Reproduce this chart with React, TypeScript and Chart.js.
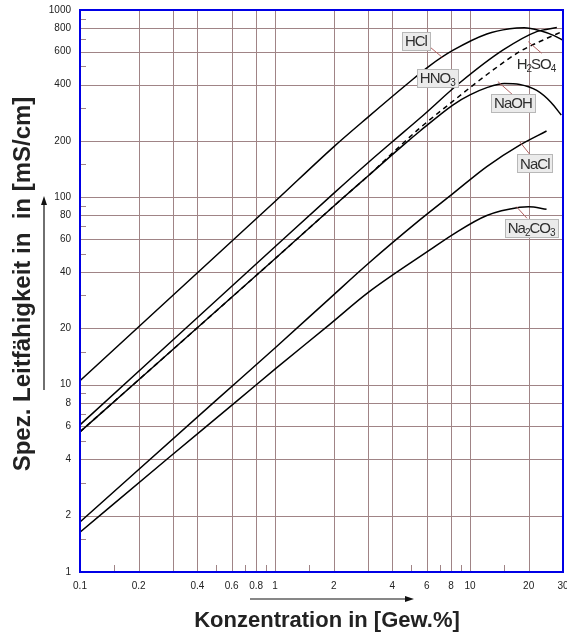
import React, { useEffect, useRef } from 'react';
import { Chart, registerables } from 'chart.js';
Chart.register(...registerables);

// ---- data (concentration in Gew.% vs. conductivity in mS/cm) ----
const hclX = [0.1, 1, 2, 3, 4.73, 6.23, 8.2, 12.2, 16, 19, 23, 27, 30];
const hclY = [10.5, 95, 186, 268, 400, 505, 610, 745, 795, 805, 775, 730, 690];

const hno3X = [0.1, 1, 2, 3, 4, 5.55, 8.9, 14.8, 22, 27.9];
const hno3Y = [6.1, 54.5, 105, 153, 198, 265, 410, 612, 767, 806];

const h2so4X = [0.1, 1, 2.2, 3, 4.55, 5.55, 8, 10, 13.2, 18, 24, 30];
const h2so4Y = [5.6, 47, 98, 130, 195, 235, 320, 385, 480, 600, 695, 770];

const naohX = [0.1, 1, 2.2, 3, 4.55, 5.55, 8.2, 10, 12.2, 15, 18, 22, 26, 29.4];
const naohY = [5.6, 47, 98, 130, 190, 226, 312, 352, 385, 405, 400, 372, 322, 275];

const naclX = [0.1, 0.502, 1, 1.91, 3, 5.55, 8.2, 12.2, 18, 24.7];
const naclY = [1.85, 8.29, 15.7, 28.9, 44.2, 76, 105, 146, 190, 226];

const na2co3X = [0.1, 0.279, 0.648, 1, 1.91, 3, 6.23, 8.2, 12.2, 18, 20, 24.7];
const na2co3Y = [1.63, 4, 8.29, 12.1, 21, 31, 52.4, 63.5, 80, 88.5, 89, 86.3];

// ---- axes ----
const xTickLabels = [0.1, 0.2, 0.4, 0.6, 0.8, 1, 2, 4, 6, 8, 10, 20, 30];
const yTickLabels = [1, 2, 4, 6, 8, 10, 20, 40, 60, 80, 100, 200, 400, 600, 800, 1000];
const xGridValues = [0.2, 0.3, 0.4, 0.6, 0.8, 1, 2, 3, 4, 6, 8, 10, 20];
const yGridValues = [2, 4, 6, 8, 10, 20, 40, 60, 80, 100, 200, 400, 600, 800];
const xMinorTicks = [0.15, 0.5, 0.7, 0.9, 1.5, 5, 7, 9, 15];
const yMinorTicks = [1.5, 3, 5, 7, 9, 15, 30, 50, 70, 90, 150, 300, 500, 700, 900];

const xTitle = 'Konzentration in [Gew.%]';
const yTitle = 'Spez. Leitfähigkeit in  in [mS/cm]';

// label annotations (anchored in data coordinates)
type Part = [string, boolean];
const annotations: { parts: Part[]; x: number; y: number; box: boolean; lead?: number[] }[] = [
  { parts: [['HCl', false]], x: 5.28, y: 684, box: true, lead: [6.23, 635, 7.27, 555] },
  { parts: [['HNO', false], ['3', true]], x: 6.8, y: 435, box: true },
  { parts: [['H', false], ['2', true], ['SO', false], ['4', true]], x: 21.8, y: 515, box: false, lead: [23.3, 588, 19.9, 678] },
  { parts: [['NaOH', false]], x: 16.6, y: 319, box: true, lead: [16.6, 352, 13.9, 415] },
  { parts: [['NaCl', false]], x: 21.5, y: 152, box: true, lead: [20.7, 165, 18, 198] },
  { parts: [['Na', false], ['2', true], ['CO', false], ['3', true]], x: 20.6, y: 68.7, box: true, lead: [19.6, 77.3, 17.3, 89.2] },
];

const GRID = '#a08486';
const FONT = '"Liberation Sans", Arial, sans-serif';

const pts = (xs: number[], ys: number[]) => xs.map((x, i) => ({ x, y: ys[i] }));

const deco = {
  id: 'deco',
  beforeDatasetsDraw(chart: any) {
    const { ctx, chartArea: a, scales } = chart;
    const x = scales.x, y = scales.y;
    ctx.save();
    ctx.strokeStyle = GRID;
    ctx.lineWidth = 1;
    ctx.beginPath();
    for (const v of xGridValues) {
      const p = Math.round(x.getPixelForValue(v)) + 0.5;
      ctx.moveTo(p, a.top); ctx.lineTo(p, a.bottom);
    }
    for (const v of yGridValues) {
      const p = Math.round(y.getPixelForValue(v)) + 0.5;
      ctx.moveTo(a.left, p); ctx.lineTo(a.right, p);
    }
    for (const v of xMinorTicks) {
      const p = Math.round(x.getPixelForValue(v)) + 0.5;
      ctx.moveTo(p, a.bottom); ctx.lineTo(p, a.bottom - 7);
    }
    for (const v of yMinorTicks) {
      const p = Math.round(y.getPixelForValue(v)) + 0.5;
      ctx.moveTo(a.left, p); ctx.lineTo(a.left + 6, p);
    }
    ctx.stroke();
    ctx.restore();
  },
  afterDatasetsDraw(chart: any) {
    const { ctx, chartArea: a, scales } = chart;
    const x = scales.x, y = scales.y;
    ctx.save();
    // border
    ctx.strokeStyle = '#0000e6';
    ctx.lineWidth = 2;
    ctx.strokeRect(a.left, a.top, a.right - a.left, a.bottom - a.top);
    // leaders
    ctx.strokeStyle = '#b06060';
    ctx.lineWidth = 1;
    for (const an of annotations) {
      if (!an.lead) continue;
      ctx.beginPath();
      ctx.moveTo(x.getPixelForValue(an.lead[0]), y.getPixelForValue(an.lead[1]));
      ctx.lineTo(x.getPixelForValue(an.lead[2]), y.getPixelForValue(an.lead[3]));
      ctx.stroke();
    }
    // labels
    const big = `15px ${FONT}`;
    const small = `10px ${FONT}`;
    for (const an of annotations) {
      (ctx as any).letterSpacing = '-1px';
      let w = 0;
      for (const [t, sub] of an.parts) { ctx.font = sub ? small : big; w += ctx.measureText(t).width; }
      const cx = x.getPixelForValue(an.x), cy = y.getPixelForValue(an.y);
      const h = 18;
      if (an.box) {
        ctx.fillStyle = '#ebebeb';
        ctx.strokeStyle = '#b8b8b8';
        ctx.lineWidth = 1;
        const bx = Math.round(cx - w / 2 - 3) + 0.5, by = Math.round(cy - h / 2) + 0.5;
        ctx.fillRect(bx, by, Math.round(w + 6), h);
        ctx.strokeRect(bx, by, Math.round(w + 6), h);
      }
      ctx.fillStyle = '#2e2e2e';
      ctx.textBaseline = 'alphabetic';
      ctx.textAlign = 'left';
      let px = cx - w / 2;
      const base = cy + 5.5;
      for (const [t, sub] of an.parts) {
        ctx.font = sub ? small : big;
        ctx.fillText(t, px, sub ? base + 3 : base);
        px += ctx.measureText(t).width;
      }
      (ctx as any).letterSpacing = '0px';
    }
    ctx.restore();
  },
  afterDraw(chart: any) {
    const { ctx } = chart;
    ctx.save();
    ctx.fillStyle = '#222';
    ctx.font = `bold 22px ${FONT}`;
    ctx.textAlign = 'center';
    ctx.textBaseline = 'alphabetic';
    ctx.fillText(xTitle, 327, 627);
    ctx.translate(30, 284);
    ctx.rotate(-Math.PI / 2);
    ctx.font = `bold 24px ${FONT}`;
    ctx.fillText(yTitle, 0, 0);
    ctx.restore();
    // arrows
    ctx.save();
    ctx.strokeStyle = '#111';
    ctx.fillStyle = '#111';
    ctx.lineWidth = 1.2;
    ctx.beginPath();
    ctx.moveTo(44, 390); ctx.lineTo(44, 203);
    ctx.moveTo(250, 599); ctx.lineTo(407, 599);
    ctx.stroke();
    ctx.beginPath();
    ctx.moveTo(44, 196); ctx.lineTo(41, 205); ctx.lineTo(47, 205); ctx.closePath();
    ctx.moveTo(414, 599); ctx.lineTo(405, 596); ctx.lineTo(405, 602); ctx.closePath();
    ctx.fill();
    ctx.restore();
  },
};

export default function App() {
  const ref = useRef<HTMLCanvasElement>(null);
  useEffect(() => {
    if (!ref.current) return;
    const ds = (label: string, xs: number[], ys: number[], dash: number[] = []) => ({
      label,
      data: pts(xs, ys),
      borderColor: '#000',
      borderWidth: 1.5,
      borderDash: dash,
      pointRadius: 0,
      fill: false,
      cubicInterpolationMode: 'monotone' as const,
    });
    const chart = new Chart(ref.current, {
      type: 'line',
      data: {
        datasets: [
          ds('HCl', hclX, hclY),
          ds('HNO3', hno3X, hno3Y),
          ds('NaOH', naohX, naohY),
          ds('H2SO4', h2so4X, h2so4Y, [5, 4]),
          ds('NaCl', naclX, naclY),
          ds('Na2CO3', na2co3X, na2co3Y),
        ],
      },
      options: {
        animation: false,
        responsive: false,
        layout: { padding: { top: 10, right: 4, left: 0, bottom: 0 } },
        plugins: { legend: { display: false }, tooltip: { enabled: false } },
        scales: {
          x: {
            type: 'logarithmic',
            min: 0.1,
            max: 30,
            grid: { display: false, drawTicks: false },
            border: { display: false },
            afterBuildTicks: (s: any) => { s.ticks = xTickLabels.map((v) => ({ value: v })); },
            afterFit: (s: any) => { s.height = 67; s.paddingLeft = 0; s.paddingRight = 0; },
            ticks: {
              autoSkip: false, maxRotation: 0, minRotation: 0, padding: 8,
              color: '#222', font: { family: FONT, size: 10 },
              callback: (v: any) => String(v),
            },
          },
          y: {
            type: 'logarithmic',
            min: 1,
            max: 1000,
            grid: { display: false, drawTicks: false },
            border: { display: false },
            afterBuildTicks: (s: any) => { s.ticks = yTickLabels.map((v) => ({ value: v })); },
            afterFit: (s: any) => { s.width = 80; s.paddingTop = 0; s.paddingBottom = 0; },
            ticks: {
              autoSkip: false, padding: 9,
              color: '#222', font: { family: FONT, size: 10 },
              callback: (v: any) => String(v),
            },
          },
        },
      },
      plugins: [deco],
    });
    return () => chart.destroy();
  }, []);
  return (
    <div style={{ position: 'fixed', left: 0, top: 0, width: 567, height: 639, background: '#fff' }}>
      <canvas ref={ref} width={567} height={639} style={{ display: 'block' }} />
    </div>
  );
}
